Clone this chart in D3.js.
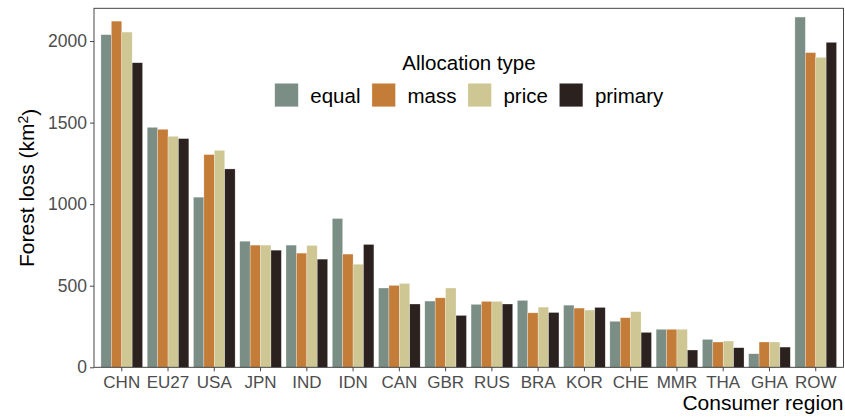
<!DOCTYPE html>
<html>
<head>
<meta charset="utf-8">
<script src="https://cdn.jsdelivr.net/npm/d3@7"></script>
<style>
  html, body { margin: 0; padding: 0; background: #ffffff; }
  svg { display: block; font-family: "Liberation Sans", Arial, Helvetica, sans-serif; }
</style>
</head>
<body>
<svg id="chart" width="845" height="419"></svg>
<script>
// Consumer regions along the x axis
const regions = ["CHN", "EU27", "USA", "JPN", "IND", "IDN", "CAN", "GBR", "RUS", "BRA", "KOR", "CHE", "MMR", "THA", "GHA", "ROW"];

// Allocation types (legend order)
const allocationTypes = ["equal", "mass", "price", "primary"];

// Forest loss (km²) per region, one array per allocation type
const equalLoss   = [2039, 1471, 1043, 773, 749, 912, 486, 406, 386, 410, 381, 282, 233, 171,  83, 2147];
const massLoss    = [2122, 1459, 1304, 749, 700, 694, 502, 426, 404, 334, 363, 304, 233, 155, 155, 1929];
const priceLoss   = [2055, 1416, 1330, 749, 747, 632, 514, 486, 404, 369, 351, 341, 233, 161, 155, 1900];
const primaryLoss = [1867, 1402, 1216, 718, 663, 753, 388, 318, 388, 336, 367, 214, 106, 120, 124, 1992];

const yTicks = [0, 500, 1000, 1500, 2000];

const palette = ["#7b8e86", "#c47d39", "#cec793", "#2b2220"];

const seriesByType = { equal: equalLoss, mass: massLoss, price: priceLoss, primary: primaryLoss };

const rows = regions.map((r, i) => ({
  region: r,
  values: allocationTypes.map(t => ({ type: t, value: seriesByType[t][i] }))
}));

const svg = d3.select("#chart");
const panel = { left: 94, top: 8.3, right: 843.5, bottom: 367.3 };

const x = d3.scaleBand()
  .domain(regions)
  .range([panel.left, panel.right])
  .paddingInner(0.1)
  .paddingOuter(0.15);

const xInner = d3.scaleBand()
  .domain(allocationTypes)
  .range([0, x.bandwidth()])
  .padding(0);

const maxVal = d3.max([equalLoss, massLoss, priceLoss, primaryLoss].flat());
const y = d3.scaleLinear()
  .domain([0, maxVal * 1.025])
  .range([panel.bottom, panel.top]);

const color = d3.scaleOrdinal().domain(allocationTypes).range(palette);

// Bars
const groups = svg.append("g")
  .selectAll("g")
  .data(rows)
  .join("g")
  .attr("transform", d => `translate(${x(d.region)},0)`);

groups.selectAll("rect")
  .data(d => d.values)
  .join("rect")
  .attr("x", d => xInner(d.type))
  .attr("width", xInner.bandwidth())
  .attr("y", d => y(d.value))
  .attr("height", d => y(0) - y(d.value))
  .attr("fill", d => color(d.type))
  .attr("stroke", "rgba(255,255,255,0.55)")
  .attr("stroke-width", 0.5);

// Panel border
svg.append("rect")
  .attr("x", panel.left)
  .attr("y", panel.top)
  .attr("width", panel.right - panel.left)
  .attr("height", panel.bottom - panel.top)
  .attr("fill", "none")
  .attr("stroke", "#333333")
  .attr("stroke-width", 0.9);

// Y axis
const yAxis = svg.append("g")
  .attr("transform", `translate(${panel.left},0)`)
  .call(d3.axisLeft(y).tickValues(yTicks).tickSize(4).tickPadding(3).tickFormat(d3.format("d")));
yAxis.select(".domain").remove();
yAxis.selectAll(".tick line").attr("stroke", "#333333").attr("stroke-width", 0.9);
yAxis.selectAll(".tick text")
  .attr("fill", "#4d4d4d")
  .style("font-size", "17.5px")
  .style("font-family", "'Liberation Sans', Arial, sans-serif");

// X axis
const xAxis = svg.append("g")
  .attr("transform", `translate(0,${panel.bottom})`)
  .call(d3.axisBottom(x).tickSize(4).tickPadding(4.5));
xAxis.select(".domain").remove();
xAxis.selectAll(".tick line").attr("stroke", "#333333").attr("stroke-width", 0.9);
xAxis.selectAll(".tick text")
  .attr("fill", "#4d4d4d")
  .style("font-size", "17px")
  .style("font-family", "'Liberation Sans', Arial, sans-serif");

// Axis titles
const yTitle = svg.append("text")
  .attr("transform", `translate(34,${(panel.top + panel.bottom) / 2}) rotate(-90)`)
  .attr("text-anchor", "middle")
  .attr("fill", "#000000")
  .style("font-size", "21px");
yTitle.append("tspan").text("Forest loss (km");
yTitle.append("tspan").attr("dy", "-0.45em").style("font-size", "14px").text("2");
yTitle.append("tspan").attr("dy", "0.45em").text(")");

svg.append("text")
  .attr("x", panel.right)
  .attr("y", 410)
  .attr("text-anchor", "end")
  .attr("fill", "#000000")
  .style("font-size", "21px")
  .text("Consumer region");

// Legend
const legendCenter = 469;
const legend = svg.append("g");

legend.append("text")
  .attr("x", legendCenter)
  .attr("y", 70)
  .attr("text-anchor", "middle")
  .attr("fill", "#000000")
  .style("font-size", "20.5px")
  .text("Allocation type");

const keySize = 23.5, keyGap = 12, itemGap = 11.5;
const items = legend.selectAll("g.item")
  .data(allocationTypes)
  .join("g")
  .attr("class", "item");

items.append("rect")
  .attr("width", keySize)
  .attr("height", keySize)
  .attr("y", 83.3)
  .attr("fill", d => color(d))
  .attr("stroke", "rgba(255,255,255,0.55)")
  .attr("stroke-width", 0.5);

items.append("text")
  .attr("x", keySize + keyGap)
  .attr("y", 103)
  .attr("fill", "#000000")
  .style("font-size", "20.5px")
  .text(d => d);

// Lay the legend row out from measured label widths, centred under the title
const widths = [];
items.each(function () {
  widths.push(keySize + keyGap + d3.select(this).select("text").node().getComputedTextLength());
});
const total = d3.sum(widths) + itemGap * (widths.length - 1);
let cursor = legendCenter - total / 2;
items.each(function (d, i) {
  d3.select(this).attr("transform", `translate(${cursor},0)`);
  cursor += widths[i] + itemGap;
});
</script>
</body>
</html>
